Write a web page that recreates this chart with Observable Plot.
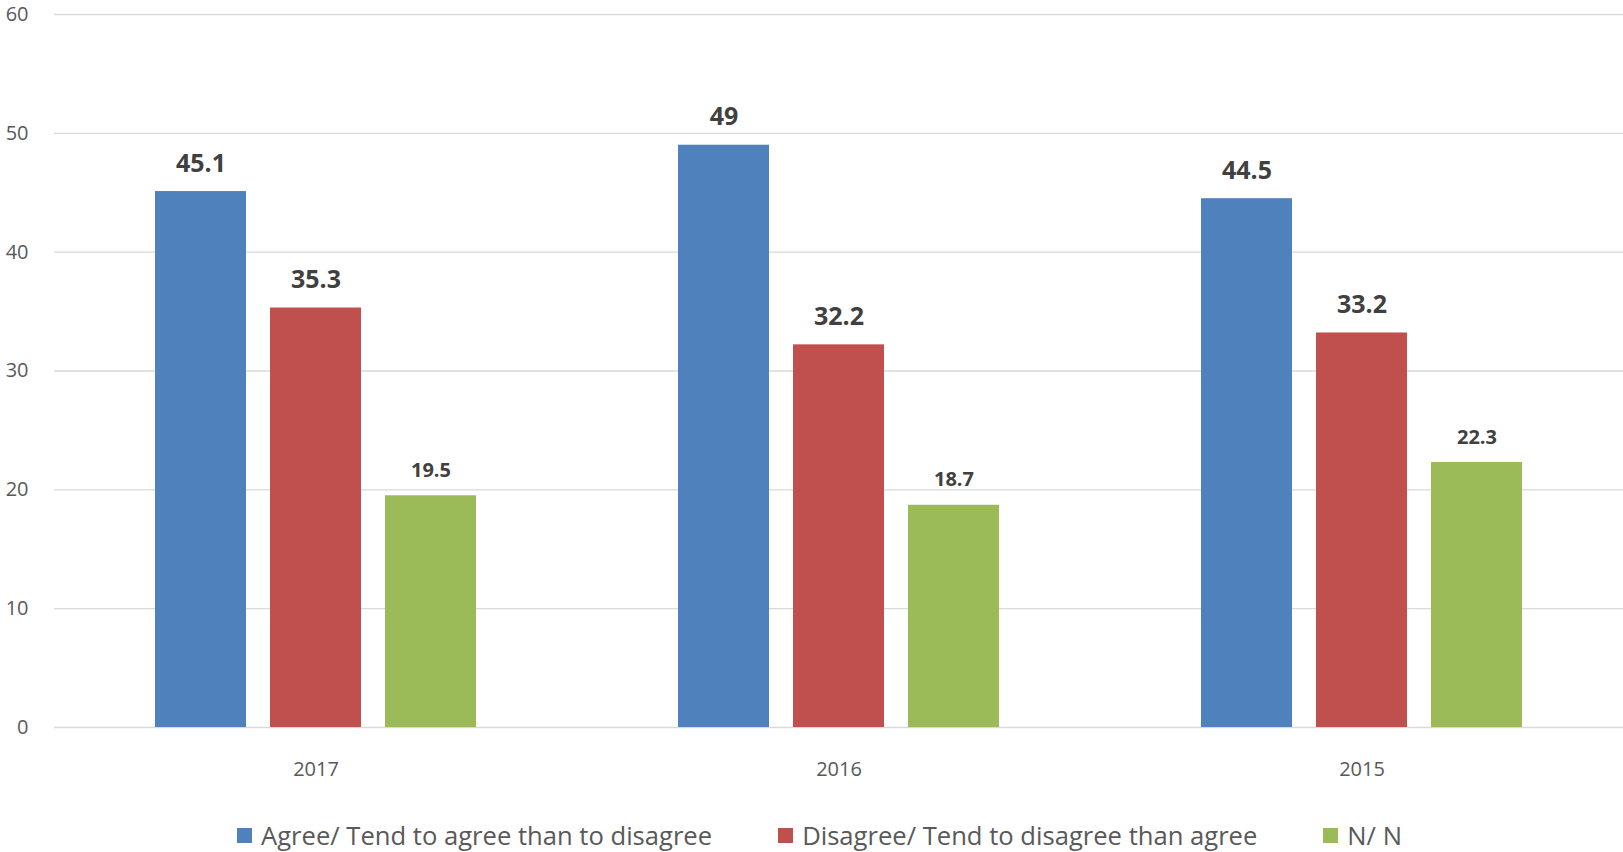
<!DOCTYPE html>
<html>
<head>
<meta charset="utf-8">
<script src="https://cdn.jsdelivr.net/npm/d3@7"></script>
<script src="https://cdn.jsdelivr.net/npm/@observablehq/plot@0.6"></script>
<style>
  html, body { margin: 0; padding: 0; background: #fff; }
  body { width: 1623px; height: 852px; overflow: hidden; font-family: 'Open Sans', sans-serif; }
  #legend { display: flex; align-items: center; height: 30px; margin-top: 30px; padding-left: 237px; color: #595959; font-size: 25.6px; }
  .item { display: flex; align-items: center; margin-right: 66px; white-space: nowrap; }
  .sw { width: 15px; height: 15px; margin-right: 9px; }
</style>
</head>
<body>
<div id="chart"></div>
<div id="legend"></div>
<script>
const years = ["2017", "2016", "2015"];
const series = ["Agree/ Tend to agree than to disagree", "Disagree/ Tend to disagree than agree", "N/ N"];
const agree = [45.1, 49, 44.5];
const disagree = [35.3, 32.2, 33.2];
const nn = [19.5, 18.7, 22.3];
const colors = ["#4F81BD", "#C0504D", "#9BBB59"];
const yTicks = [0, 10, 20, 30, 40, 50, 60];

const valuesBySeries = [agree, disagree, nn];
const data = [];
years.forEach((yr, i) => {
  series.forEach((s, j) => {
    data.push({year: yr, series: s, value: valuesBySeries[j][i], idx: j});
  });
});

const chart = Plot.plot({
  width: 1623,
  height: 790,
  marginTop: 14,
  marginBottom: 63,
  marginLeft: 53,
  marginRight: 0,
  style: {fontFamily: "'Open Sans', sans-serif", color: "#595959", background: "#fff"},
  fx: {domain: years, padding: 0, label: null},
  x: {domain: series, paddingInner: 0.21, paddingOuter: 0.86, axis: null},
  y: {domain: [0, 60], label: null},
  color: {domain: series, range: colors},
  marks: [
    Plot.gridY(yTicks, {stroke: "#d9d9d9", strokeOpacity: 1, strokeWidth: 1.3}),
    Plot.axisY(yTicks, {tickSize: 0, tickPadding: 26, fontSize: 20, label: null, fill: "#595959"}),
    Plot.axisFx({anchor: "bottom", tickSize: 0, tickPadding: 34, fontSize: 20, label: null, fill: "#595959"}),
    Plot.barY(data, {fx: "year", x: "series", y: "value", fill: "series"}),
    Plot.text(data.filter(d => d.idx < 2), {
      fx: "year", x: "series", y: "value", text: d => String(d.value),
      lineAnchor: "bottom", dy: -20, fontSize: 25, fontWeight: "bold", fill: "#404040"
    }),
    Plot.text(data.filter(d => d.idx === 2), {
      fx: "year", x: "series", y: "value", text: d => String(d.value),
      lineAnchor: "bottom", dy: -19, fontSize: 20, fontWeight: "bold", fill: "#404040"
    })
  ]
});
document.getElementById("chart").appendChild(chart);

const legend = document.getElementById("legend");
series.forEach((s, i) => {
  const item = document.createElement("div");
  item.className = "item";
  const sw = document.createElement("span");
  sw.className = "sw";
  sw.style.background = colors[i];
  const t = document.createElement("span");
  t.textContent = s;
  item.appendChild(sw);
  item.appendChild(t);
  legend.appendChild(item);
});
</script>
</body>
</html>
